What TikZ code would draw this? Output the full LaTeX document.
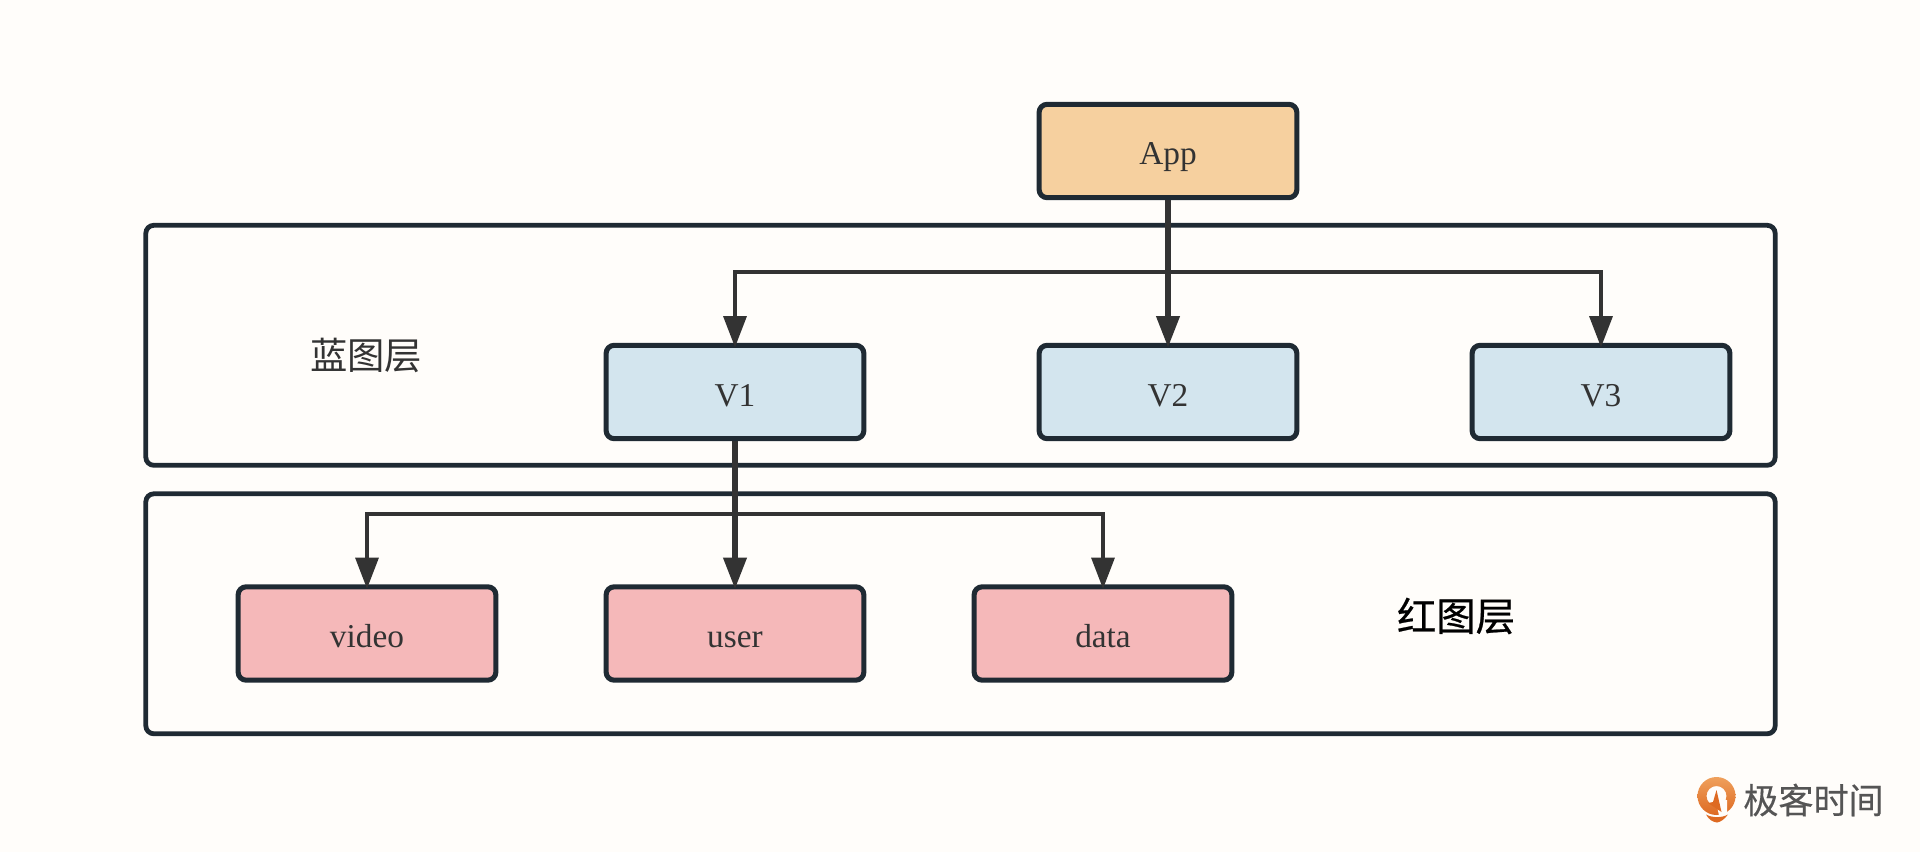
\documentclass[tikz,border=0pt]{standalone}
\usepackage{fontspec}
\setmainfont{Liberation Serif}
\newfontfamily\cjk{Noto Sans CJK SC}
\newfontfamily\cjkb[FakeBold=0.6]{Noto Sans CJK SC}
\newfontfamily\cjkl[FakeBold=0.35]{Noto Sans CJK SC}
\usetikzlibrary{arrows.meta}
\definecolor{bgc}{HTML}{FFFDFA}
\definecolor{edgec}{HTML}{1F2A33}
\definecolor{linec}{HTML}{333333}
\definecolor{txtc}{HTML}{333333}
\definecolor{orangec}{HTML}{F6D09F}
\definecolor{bluec}{HTML}{D3E5EE}
\definecolor{redc}{HTML}{F5B8B9}
\definecolor{logotop}{HTML}{EFA05C}
\definecolor{logobot}{HTML}{DE6A22}
\definecolor{logot}{HTML}{555555}
\tikzset{
  x=0.75pt,y=-0.75pt,
  box/.style={draw=edgec,line width=3.8pt,rounded corners=6pt,minimum width=193.3pt,minimum height=70pt,inner sep=0pt,text height=21pt,text depth=0pt,font=\fontsize{25}{30}\selectfont,text=txtc},
  appbox/.style={box,fill=orangec},
  bluebox/.style={box,fill=bluec},
  redbox/.style={box,fill=redc},
  layerbox/.style={draw=edgec,line width=3.6pt,rounded corners=6pt,minimum width=1222pt,minimum height=180pt,inner sep=0pt},
  layerlabel/.style={inner sep=0pt},
  conn/.style={draw=linec,line width=3.2pt,shorten >=-3.5pt,-{Triangle[width=17pt,length=23.5pt]}},
  connmid/.style={conn,line width=3.8pt},
  trunk/.style={draw=linec,line width=3.8pt},
}
\begin{document}
\begin{tikzpicture}
\useasboundingbox (0,0) rectangle (1920,852);
\fill[bgc] (0,0) rectangle (1920,852);
\node[layerbox] (blue) at (960.5,345.3) {};
\node[layerbox] (red) at (960.5,613.8) {};
\node[appbox] (app) at (1168,151) {App};
\node[bluebox] (v1) at (735,392) {V1};
\node[bluebox] (v2) at (1168,392) {V2};
\node[bluebox] (v3) at (1601,392) {V3};
\node[redbox] (video) at (367,633.5) {video};
\node[redbox] (user) at (735,633.5) {user};
\node[redbox] (data) at (1103,633.5) {data};
\node[layerlabel,text=txtc,font=\cjk\fontsize{28}{32}\selectfont] (bluelabel) at (366,355) {蓝图层};
\node[layerlabel,text=black,font=\cjkb\fontsize{29.5}{34}\selectfont] (redlabel) at (1456,616) {红图层};
\coordinate (bj) at (1168,272);
\coordinate (rj) at (735,514);
\draw[conn] (bj) -| (v1.north);
\draw[conn] (bj) -| (v3.north);
\draw[conn] (rj) -| (video.north);
\draw[conn] (rj) -| (data.north);
\draw[trunk] (app.south) -- (bj);
\draw[connmid] (bj) -- (v2.north);
\draw[trunk] (v1.south) -- (rj);
\draw[connmid] (rj) -- (user.north);
% logo
\shade[top color=logotop,bottom color=logobot,even odd rule] (1716.5,796) circle[radius=19] (1716.5,796) circle[radius=10];
\fill[bgc] (1716,800) -- (1727,800) -- (1727,816) -- (1719,816) -- cycle;
\fill[logobot] (1716.5,790) -- (1721.5,812) -- (1708,803) -- (1713,802) -- cycle;
\fill[logobot] (1706,814.5) .. controls (1712,818) and (1722,818) .. (1728,814.5) .. controls (1724,820) and (1720,822) .. (1717,822.5) .. controls (1713,822) and (1709,820) .. (1706,814.5) -- cycle;
\node[font=\cjkl\fontsize{26.3}{30}\selectfont,text=logot,inner sep=0pt] (logotext) at (1813.5,800) {极客时间};
\end{tikzpicture}
\end{document}
